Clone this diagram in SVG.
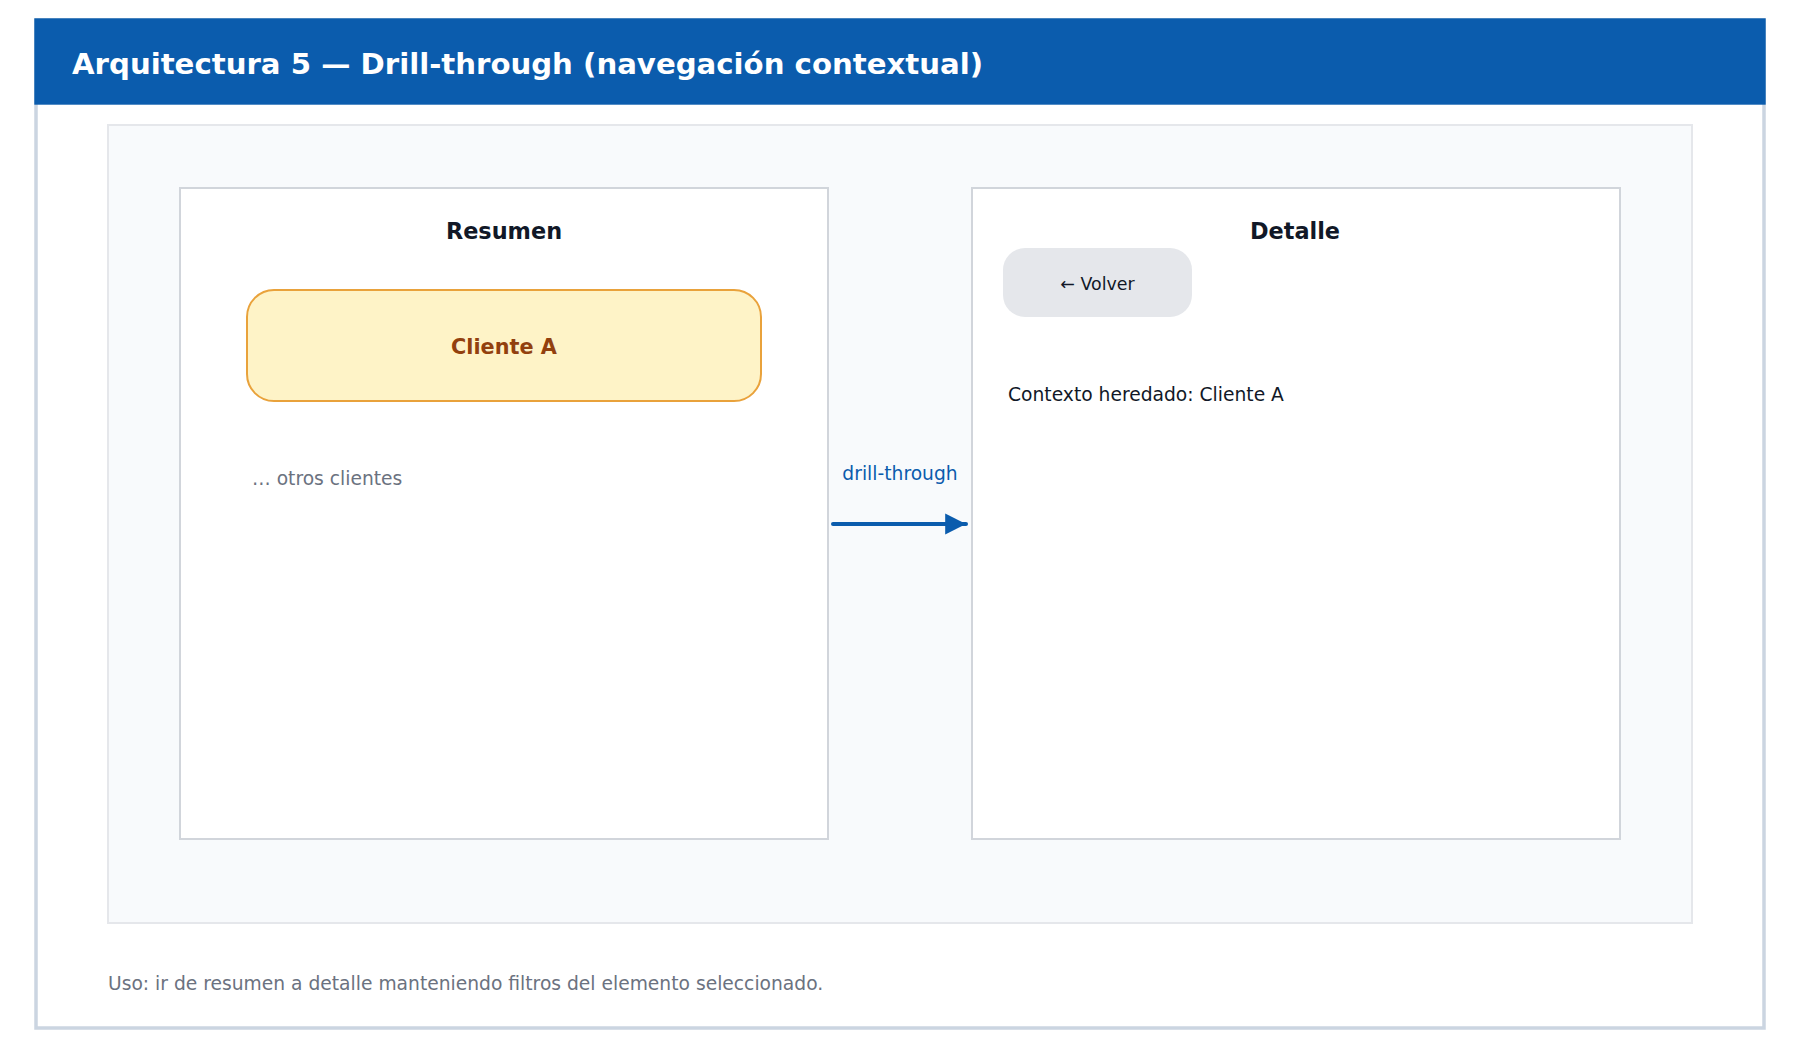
<svg xmlns="http://www.w3.org/2000/svg" width="1800" height="1049" viewBox="0 0 1800 1049">
<style>
.t{font-family:"DejaVu Sans","Liberation Sans",sans-serif}
.b{font-weight:bold}
.box{fill:#ffffff;stroke:#d1d5db;stroke-width:2}
.body{font-size:18.7px}
</style>
<defs>
<marker id="ah" viewBox="0 0 10 10" refX="10" refY="5" markerWidth="5.2" markerHeight="5.4" orient="auto" markerUnits="strokeWidth">
<path d="M0,0 L10,5 L0,10 Z" fill="#0b5cad"/>
</marker>
</defs>
<rect x="0" y="0" width="1800" height="1049" fill="#ffffff"/>
<g id="frame">
<rect x="36" y="20" width="1728" height="1008" fill="#ffffff" stroke="#cbd5e1" stroke-width="3.5"/>
<rect x="34.3" y="18.3" width="1731.4" height="86.4" fill="#0b5cad"/>
<text class="t b" x="72" y="73.5" font-size="29.2" fill="#ffffff">Arquitectura 5 — Drill-through (navegación contextual)</text>
</g>
<g id="panel">
<rect x="108" y="125" width="1584" height="798" fill="#f8fafc" stroke="#e5e7eb" stroke-width="2"/>
</g>
<g id="resumen">
<rect class="box" x="180" y="188" width="648" height="651"/>
<text class="t b" x="504" y="238.5" font-size="22.4" fill="#111827" text-anchor="middle">Resumen</text>
</g>
<g id="cliente-a">
<rect x="247" y="290" width="514" height="111" rx="27" fill="#fef3c7" stroke="#e9a23b" stroke-width="2"/>
<text class="t b" x="504" y="353.5" font-size="20.8" fill="#92400e" text-anchor="middle">Cliente A</text>
</g>
<g id="otros">
<text class="t body" x="252" y="484.5" fill="#6b7280">… otros clientes</text>
</g>
<g id="detalle">
<rect class="box" x="972" y="188" width="648" height="651"/>
<text class="t b" x="1295" y="238.5" font-size="22.4" fill="#111827" text-anchor="middle">Detalle</text>
<text class="t body" x="1008" y="400.5" fill="#111827">Contexto heredado: Cliente A</text>
</g>
<g id="volver">
<rect x="1003" y="248" width="189" height="69" rx="22" fill="#e5e7eb"/>
<text class="t" x="1097.5" y="289.5" font-size="17.4" fill="#111827" text-anchor="middle">← Volver</text>
</g>
<g id="connectors">
<line x1="833" y1="524" x2="966" y2="524" stroke="#0b5cad" stroke-width="4" stroke-linecap="round" marker-end="url(#ah)"/>
<text class="t body" x="900" y="479.5" fill="#0b5cad" text-anchor="middle">drill-through</text>
</g>
<g id="footer">
<text class="t body" x="108" y="989.5" fill="#6b7280">Uso: ir de resumen a detalle manteniendo filtros del elemento seleccionado.</text>
</g>
</svg>
